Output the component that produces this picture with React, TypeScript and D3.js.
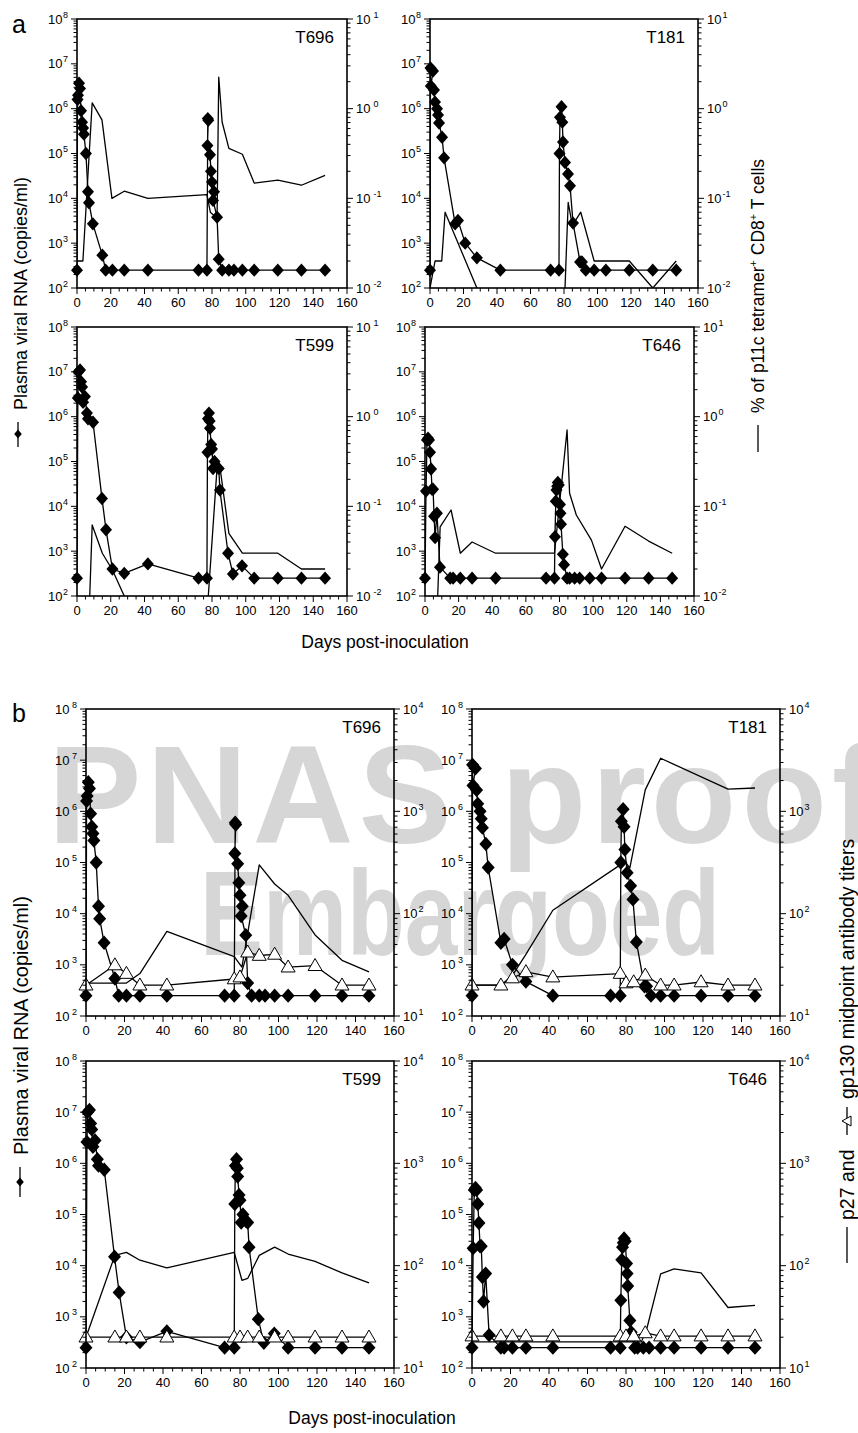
import React from "react";
import * as d3 from "d3";

type Pt = [number, number];

// plasma viral RNA (copies/ml) — same series drawn in panels a and b
const vlT696: Pt[] = [[0, 250], [0.3, 1.6e6], [0.6, 2e6], [1.2, 3.7e6], [1.8, 2.8e6], [2.4, 9e5], [3, 5e5], [3.6, 3.7e5], [4.1, 2.7e5], [5.3, 1e5], [6.5, 1.4e4], [7.1, 8e3], [9.4, 2.7e3], [15, 540], [17, 250], [21, 250], [28, 250], [42, 250], [72, 250], [77, 250], [77.5, 6e5], [77.8, 5.5e5], [77.3, 1.5e5], [78.8, 9.4e4], [79.4, 4e4], [80, 2.3e4], [81.2, 1.4e4], [80.6, 9e3], [83, 3.8e3], [84, 440], [86, 250], [90, 250], [93, 250], [98, 250], [105, 250], [119, 250], [133, 250], [147, 250]];
const vlT181: Pt[] = [[0, 250], [0.3, 8.1e6], [1.8, 6.9e6], [0.5, 3.2e6], [2.4, 2.6e6], [3, 1.4e6], [4.2, 1e6], [4.8, 7.2e5], [5.4, 4.8e5], [7.2, 2.3e5], [8.4, 8e4], [15, 2.7e3], [16.7, 3.2e3], [21, 1e3], [28, 470], [42, 250], [72, 250], [77, 250], [77.3, 1e5], [77.6, 6.4e5], [78.5, 1.1e6], [79, 5e5], [79.4, 1.8e5], [80.6, 6.3e4], [82.4, 3.5e4], [83.6, 1.9e4], [85.4, 2.8e3], [89.6, 380], [90.7, 380], [93, 250], [98, 250], [105, 250], [119, 250], [133, 250], [147, 250]];
const vlT599: Pt[] = [[0, 250], [0.5, 2.6e6], [0.8, 1e7], [1.8, 1.1e7], [2.4, 6e6], [3, 4.6e6], [3.6, 2.1e6], [4.7, 2.8e6], [5.9, 1.2e6], [6.5, 9e5], [9.5, 7.5e5], [14.8, 1.5e4], [17.2, 3e3], [21, 400], [28, 320], [42, 520], [72, 250], [77, 250], [77.3, 1.6e5], [77.6, 9e5], [78.2, 1.2e6], [78.6, 8e5], [78.8, 5.5e5], [79.5, 2.4e5], [80, 1.9e5], [80.6, 7e4], [81.5, 1e5], [83, 7.5e4], [84, 7e4], [84.7, 2.3e4], [89.5, 900], [92.4, 310], [97.8, 470], [105, 250], [119, 250], [133, 250], [147, 250]];
const vlT646: Pt[] = [[0, 250], [0.6, 2.2e4], [1.2, 3e5], [1.8, 3.3e5], [2.4, 3e5], [3, 1.6e5], [3.6, 6.8e4], [4.2, 2.4e4], [4.8, 2.4e4], [5.4, 6e3], [6, 2e3], [7.1, 7e3], [8.9, 440], [15, 250], [16.7, 250], [21, 250], [28, 250], [42, 250], [72, 250], [77, 250], [77.3, 2.1e3], [77.8, 1.3e4], [78.2, 2.3e4], [78.6, 2.8e4], [79, 3.4e4], [79.6, 3e4], [80.3, 1.1e4], [80.6, 7e3], [80.9, 4e3], [82, 850], [82.7, 500], [84.5, 250], [86, 250], [89, 250], [92, 250], [98, 250], [105, 250], [119, 250], [133, 250], [147, 250]];

// % of p11c tetramer+ CD8+ T cells (panel a, plain line)
const tetT696: Pt[] = [[0, 0.02], [3.5, 0.02], [9, 1.16], [14.8, 0.75], [20.7, 0.1], [28, 0.12], [42, 0.1], [77, 0.11], [79, 0.07], [83, 0.06], [84, 2.25], [86, 0.71], [90, 0.36], [98, 0.31], [105, 0.148], [119, 0.16], [133, 0.14], [147, 0.18]];
const tetT181: Pt[] = [[0, 0.01], [3, 0.02], [7, 0.02], [9, 0.07], [28, 0.01], [42, 0.005], [77, 0.005], [80, 0.005], [82.5, 0.09], [85, 0.05], [90, 0.07], [98, 0.02], [119, 0.02], [133, 0.01], [147, 0.02]];
const tetT599: Pt[] = [[0, 0.005], [7, 0.005], [9, 0.062], [15, 0.03], [21, 0.0195], [28, 0.01], [42, 0.006], [72, 0.006], [77, 0.006], [83, 0.27], [85, 0.25], [90, 0.05], [98, 0.03], [119, 0.03], [133, 0.02], [147, 0.02]];
const tetT646: Pt[] = [[0, 0.005], [7, 0.005], [9, 0.059], [15.5, 0.091], [21, 0.03], [28, 0.04], [42, 0.03], [77, 0.03], [84.5, 0.71], [86, 0.14], [90, 0.08], [99, 0.042], [105, 0.02], [119, 0.06], [133, 0.041], [147, 0.03]];

// p27 midpoint antibody titers (panel b, plain line)
const p27T696: Pt[] = [[0, 21], [21, 21], [28, 26], [42, 67], [77, 38], [81, 30], [90, 300], [98, 195], [105, 151], [119, 62], [133, 35], [147, 27]];
const p27T181: Pt[] = [[0, 20], [15, 20], [21, 25], [28, 40], [42, 108], [77, 300], [80, 313], [82, 280], [90, 1620], [98, 3300], [133, 1650], [147, 1690]];
const p27T599: Pt[] = [[0, 20], [15, 126], [21, 135], [28, 113], [42, 95], [77, 135], [81, 72], [84, 75], [90, 126], [98, 152], [105, 130], [119, 110], [133, 85], [147, 68]];
const p27T646: Pt[] = [[0, 18], [88, 18], [91, 25], [98, 83], [105, 93], [119, 85], [133, 39], [147, 41]];

// gp130 midpoint antibody titers (panel b, open triangles)
const gpDays = [0, 15, 21, 28, 42, 77, 80, 84, 90, 98, 105, 119, 133, 147];
const gpT696 = [20, 31.5, 26, 20, 20, 23, 24, 42, 39, 40, 30, 31, 20, 20];
const gpT181 = [20, 20, 23.5, 27, 24, 26, 21, 21.5, 25, 20, 20, 21.5, 20, 20];
const gpT599 = [20, 20, 20, 20, 20, 20, 20, 20, 20, 20, 20, 20, 20, 20];
const gpT646 = [20.5, 20.5, 20.5, 20.5, 20.5, 20.5, 20.5, 20.5, 22, 20.5, 20.5, 20.5, 20.5, 20.5];

const dayTicks = d3.range(0, 161, 5);
const dayLabels = [0, 20, 40, 60, 80, 100, 120, 140, 160];

const FONT = "'Liberation Sans', Arial, Helvetica, sans-serif";

const zip = (days: number[], vals: number[]): Pt[] => days.map((d, i) => [d, vals[i]]);

function logTicks(lo: number, hi: number) {
  const out: { v: number; major: boolean; e: number }[] = [];
  for (let e = lo; e < hi; e++) {
    for (let m = 1; m < 10; m++) out.push({ v: m * Math.pow(10, e), major: m === 1, e });
  }
  out.push({ v: Math.pow(10, hi), major: true, e: hi });
  return out;
}

type PanelProps = {
  id: string;
  name: string;
  xr: [number, number];
  yr: [number, number];
  vl: Pt[];
  line: Pt[];
  tri?: Pt[];
  rExp: [number, number];
  lGap: number;
  rGap: number;
  ds: number;
};

function Pow({ x, y, e, anchor, gap }: { x: number; y: number; e: number; anchor: string; gap: number }) {
  return (
    <text x={x} y={y} textAnchor={anchor} fontSize={13}>
      10
      <tspan dx={gap} dy={-6} fontSize={9}>{e}</tspan>
    </text>
  );
}

function Panel(p: PanelProps) {
  const [x0, x1] = p.xr;
  const [y0, y1] = p.yr;
  const x = d3.scaleLinear().domain([0, 160]).range([x0, x1]);
  const yL = d3.scaleLog().domain([1e2, 1e8]).range([y1, y0]);
  const yR = d3.scaleLog().domain([Math.pow(10, p.rExp[0]), Math.pow(10, p.rExp[1])]).range([y1, y0]);
  const lineL = d3.line<Pt>().x(d => x(d[0])).y(d => yL(d[1]));
  const lineR = d3.line<Pt>().x(d => x(d[0])).y(d => yR(d[1]));
  const hw = p.ds, hh = p.ds + 0.7;
  const diamond = `M0,${-hh}L${hw},0L0,${hh}L${-hw},0Z`;
  const tw = 7, th = 12;
  const triangle = `M0,${-th * 0.6}L${tw},${th * 0.4}L${-tw},${th * 0.4}Z`;
  const clip = `clip-${p.id}`;
  return (
    <g>
      <defs>
        <clipPath id={clip}>
          <rect x={x0} y={y0} width={x1 - x0} height={y1 - y0} />
        </clipPath>
      </defs>
      <g clipPath={`url(#${clip})`} fill="none" stroke="#000" strokeWidth={1.3} strokeLinejoin="round">
        <path d={lineR(p.line) || ""} />
        {p.tri && <path d={lineR(p.tri) || ""} />}
        <path d={lineL(p.vl) || ""} />
      </g>
      {p.vl.map((d, i) => (
        <path key={"d" + i} d={diamond} transform={`translate(${x(d[0])},${yL(d[1])})`} fill="#000" />
      ))}
      {p.tri && p.tri.map((d, i) => (
        <path key={"t" + i} d={triangle} transform={`translate(${x(d[0])},${yR(d[1])})`} fill="#fff" stroke="#000" strokeWidth={1} />
      ))}
      <rect x={x0} y={y0} width={x1 - x0} height={y1 - y0} fill="none" stroke="#000" strokeWidth={1.6} />
      {logTicks(2, 8).map((t, i) => (
        <line key={"l" + i} x1={x0 - (t.major ? 6 : 3.5)} x2={x0} y1={yL(t.v)} y2={yL(t.v)} stroke="#000" strokeWidth={1} />
      ))}
      {logTicks(2, 8).filter(t => t.major).map(t => (
        <Pow key={"ll" + t.e} x={x0 - 9} y={yL(t.v) + 4.5} e={t.e} anchor="end" gap={p.lGap} />
      ))}
      {logTicks(p.rExp[0], p.rExp[1]).map((t, i) => (
        <line key={"r" + i} x1={x1} x2={x1 + (t.major ? 6 : 3.5)} y1={yR(t.v)} y2={yR(t.v)} stroke="#000" strokeWidth={1} />
      ))}
      {logTicks(p.rExp[0], p.rExp[1]).filter(t => t.major).map(t => (
        <Pow key={"rl" + t.e} x={x1 + 9} y={yR(t.v) + 4.5} e={t.e} anchor="start" gap={p.rGap} />
      ))}
      {dayTicks.map(d => (
        <line key={"x" + d} x1={x(d)} x2={x(d)} y1={y1} y2={y1 + (d % 20 === 0 ? 6 : 3.5)} stroke="#000" strokeWidth={1} />
      ))}
      {dayLabels.map(d => (
        <text key={"xl" + d} x={x(d)} y={y1 + 19} textAnchor="middle" fontSize={13}>{d}</text>
      ))}
      <text x={x1 - 13} y={y0 + 24} textAnchor="end" fontSize={17}>{p.name}</text>
    </g>
  );
}

const diamondSmall = "M0,-4.5L3.8,0L0,4.5L-3.8,0Z";

export default function App() {
  return (
    <div style={{ position: "absolute", left: 0, top: 0 }}>
      <svg width={858} height={1433} style={{ display: "block", fontFamily: FONT }}>
        <rect width={858} height={1433} fill="#fff" />
        {/* watermark */}
        <g fill="#d6d6d6" fontFamily={FONT} fontWeight="bold">
          <text x={48} y={843} fontSize={140} letterSpacing={5}>PNAS proof</text>
          <text x={200} y={955} fontSize={120} textLength={520} lengthAdjust="spacingAndGlyphs">Embargoed</text>
        </g>

        <text x={12} y={33} fontSize={25}>a</text>
        <text x={12} y={722} fontSize={25}>b</text>

        <Panel id="a1" name="T696" xr={[77, 347]} yr={[19, 288]} vl={vlT696} line={tetT696} rExp={[-2, 1]} lGap={0.5} rGap={3} ds={6} />
        <Panel id="a2" name="T181" xr={[430, 698]} yr={[19, 288]} vl={vlT181} line={tetT181} rExp={[-2, 1]} lGap={0.5} rGap={1} ds={6} />
        <Panel id="a3" name="T599" xr={[77, 347]} yr={[327, 596]} vl={vlT599} line={tetT599} rExp={[-2, 1]} lGap={0.5} rGap={3} ds={6} />
        <Panel id="a4" name="T646" xr={[425, 694]} yr={[327, 596]} vl={vlT646} line={tetT646} rExp={[-2, 1]} lGap={0.5} rGap={1} ds={6} />

        <Panel id="b1" name="T696" xr={[86, 394]} yr={[709, 1016]} vl={vlT696} line={p27T696} tri={zip(gpDays, gpT696)} rExp={[1, 4]} lGap={2.5} rGap={1} ds={6.5} />
        <Panel id="b2" name="T181" xr={[472, 780]} yr={[709, 1016]} vl={vlT181} line={p27T181} tri={zip(gpDays, gpT181)} rExp={[1, 4]} lGap={2.5} rGap={1} ds={6.5} />
        <Panel id="b3" name="T599" xr={[86, 394]} yr={[1061, 1368]} vl={vlT599} line={p27T599} tri={zip(gpDays, gpT599)} rExp={[1, 4]} lGap={2.5} rGap={1} ds={6.5} />
        <Panel id="b4" name="T646" xr={[472, 780]} yr={[1061, 1368]} vl={vlT646} line={p27T646} tri={zip(gpDays, gpT646)} rExp={[1, 4]} lGap={2.5} rGap={1} ds={6.5} />

        {/* panel a axis titles */}
        <text transform="translate(27,410) rotate(-90)" fontSize={18}>Plasma viral RNA (copies/ml)</text>
        <line x1={18} x2={18} y1={422} y2={447} stroke="#000" strokeWidth={1.3} />
        <path d={diamondSmall} transform="translate(18,434)" fill="#000" />
        <text transform="translate(764,413) rotate(-90)" fontSize={17.5}>
          % of p11c tetramer<tspan dy={-7} fontSize={11}>+</tspan><tspan dy={7}> CD8</tspan><tspan dy={-7} fontSize={11}>+</tspan><tspan dy={7}> T cells</tspan>
        </text>
        <line x1={758} x2={758} y1={425} y2={452} stroke="#000" strokeWidth={1.3} />
        <text x={385} y={648} textAnchor="middle" fontSize={17.5}>Days post-inoculation</text>

        {/* panel b axis titles */}
        <text transform="translate(28,1155) rotate(-90)" fontSize={20}>Plasma viral RNA (copies/ml)</text>
        <line x1={20} x2={20} y1={1167} y2={1197} stroke="#000" strokeWidth={1.3} />
        <path d={diamondSmall} transform="translate(20,1182)" fill="#000" />
        <g transform="translate(854,1263) rotate(-90)">
          <line x1={0} x2={36} y1={-7} y2={-7} stroke="#000" strokeWidth={1.3} />
          <text x={43} y={0} fontSize={19.5}>p27 and</text>
          <line x1={128} x2={156} y1={-7} y2={-7} stroke="#000" strokeWidth={1.3} />
          <path d="M142,-12L147,-3L137,-3Z" fill="#fff" stroke="#000" strokeWidth={1} />
          <text x={164} y={0} fontSize={19.5}>gp130 midpoint antibody titers</text>
        </g>
        <text x={372} y={1424} textAnchor="middle" fontSize={17.5}>Days post-inoculation</text>
      </svg>
    </div>
  );
}
